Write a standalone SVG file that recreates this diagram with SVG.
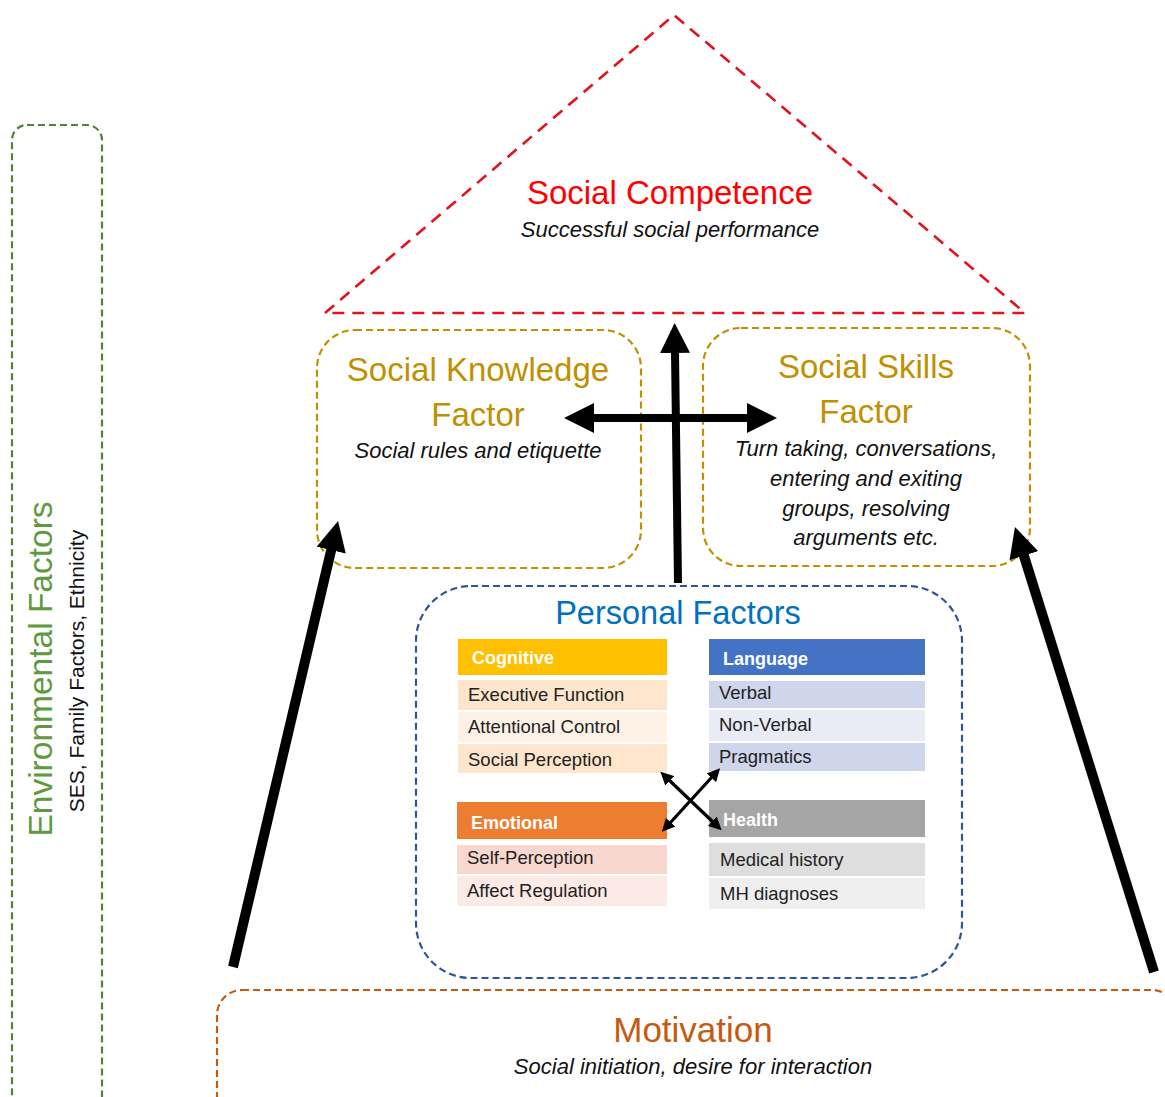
<svg xmlns="http://www.w3.org/2000/svg" width="1165" height="1097" viewBox="0 0 1165 1097">
<style>
text{font-family:"Liberation Sans","Open Sans",sans-serif}
.h{font-size:33px;text-anchor:middle}
.it{font-size:22px;font-style:italic;text-anchor:middle;fill:#111}
.hd{font-size:18px;font-weight:bold;fill:#fff}
.c{font-size:18.5px;fill:#222}
.dash{fill:none;stroke-width:2.2;stroke-dasharray:7 4}
.big{stroke:#000;fill:none}
</style>
<defs>
<marker id="ah" markerUnits="userSpaceOnUse" viewBox="0 0 30 30" markerWidth="30" markerHeight="30" refX="1" refY="15" orient="auto-start-reverse"><path d="M0,0 L30,15 L0,30 z" fill="#000"/></marker>
<marker id="as" markerUnits="userSpaceOnUse" viewBox="0 0 13 13" markerWidth="13" markerHeight="13" refX="1" refY="6.5" orient="auto-start-reverse"><path d="M0,0 L13,6.5 L0,13 z" fill="#000"/></marker>
</defs>
<rect width="1165" height="1097" fill="#fff"/>

<g id="environmental">
<rect x="12" y="125" width="90" height="990" rx="15" class="dash" stroke="#548235"/>
<text transform="translate(52,669) rotate(-90)" class="h" fill="#5e9a3f" style="font-size:33.5px">Environmental Factors</text>
<text transform="translate(84,671) rotate(-90)" style="font-size:21px;text-anchor:middle" fill="#111">SES, Family Factors, Ethnicity</text>
</g>

<g id="social-competence">
<path d="M325,313 L674,15 L1025,313 Z" fill="none" stroke="#e0141c" stroke-width="2.6" stroke-dasharray="12 8"/>
<text x="670" y="204" class="h" fill="#ff0000">Social Competence</text>
<text x="670" y="237" class="it">Successful social performance</text>
</g>

<g id="social-knowledge">
<rect x="317" y="330" width="324" height="238" rx="38" class="dash" stroke="#bf9000"/>
<text x="478" y="381" class="h" fill="#bf9000">Social Knowledge</text>
<text x="478" y="426" class="h" fill="#bf9000">Factor</text>
<text x="478" y="458" class="it">Social rules and etiquette</text>
</g>

<g id="social-skills">
<rect x="703" y="328" width="327" height="238" rx="38" class="dash" stroke="#bf9000"/>
<text x="866" y="378" class="h" fill="#bf9000">Social Skills</text>
<text x="866" y="423" class="h" fill="#bf9000">Factor</text>
<text x="866" y="456" class="it">Turn taking, conversations,</text>
<text x="866" y="486" class="it">entering and exiting</text>
<text x="866" y="516" class="it">groups, resolving</text>
<text x="866" y="545" class="it">arguments etc.</text>
</g>

<g id="personal-factors">
<rect x="416" y="586" width="546" height="392" rx="55" class="dash" stroke="#2f5597"/>
<text x="678" y="624" class="h" fill="#0070c0" style="font-size:32.5px">Personal Factors</text>
</g>

<g id="cognitive">
<rect x="458" y="639" width="209" height="36" fill="#ffc000"/>
<text x="472" y="664" class="hd">Cognitive</text>
<rect x="458" y="680" width="209" height="30" fill="#fde6cb"/>
<text x="468" y="701" class="c">Executive Function</text>
<rect x="458" y="712" width="209" height="30" fill="#fef2e6"/>
<text x="468" y="733" class="c">Attentional Control</text>
<rect x="458" y="744" width="209" height="29" fill="#fde6cb"/>
<text x="468" y="766" class="c">Social Perception</text>
</g>

<g id="language">
<rect x="709" y="639" width="216" height="36" fill="#4472c4"/>
<text x="723" y="665" class="hd">Language</text>
<rect x="709" y="681" width="216" height="27" fill="#cfd5ea"/>
<text x="719" y="699" class="c">Verbal</text>
<rect x="709" y="710" width="216" height="31" fill="#e9ebf5"/>
<text x="719" y="731" class="c">Non-Verbal</text>
<rect x="709" y="743" width="216" height="28" fill="#cfd5ea"/>
<text x="719" y="763" class="c">Pragmatics</text>
</g>

<g id="emotional">
<rect x="457" y="802" width="210" height="37" fill="#ed7d31"/>
<text x="471" y="829" class="hd">Emotional</text>
<rect x="457" y="845" width="210" height="29" fill="#f8d8ce"/>
<text x="467" y="864" class="c">Self-Perception</text>
<rect x="457" y="876" width="210" height="30" fill="#fbeae6"/>
<text x="467" y="897" class="c">Affect Regulation</text>
</g>

<g id="health">
<rect x="709" y="800" width="216" height="37" fill="#a5a5a5"/>
<text x="723" y="826" class="hd">Health</text>
<rect x="709" y="843" width="216" height="33" fill="#dedede"/>
<text x="720" y="866" class="c">Medical history</text>
<rect x="709" y="878" width="216" height="31" fill="#efefef"/>
<text x="720" y="900" class="c">MH diagnoses</text>
</g>

<g id="motivation">
<rect x="217" y="990" width="960" height="130" rx="25" class="dash" stroke="#c55a11"/>
<text x="693" y="1042" class="h" fill="#c55a11" style="font-size:35px">Motivation</text>
<text x="693" y="1074" class="it">Social initiation, desire for interaction</text>
</g>

<g id="connectors">
<line x1="678" y1="583" x2="675" y2="352" class="big" stroke-width="8" marker-end="url(#ah)"/>
<line x1="593" y1="418" x2="748" y2="418" class="big" stroke-width="8" marker-start="url(#ah)" marker-end="url(#ah)"/>
<line x1="233" y1="967" x2="331.4" y2="549.2" class="big" stroke-width="10" marker-end="url(#ah)"/>
<line x1="1154" y1="972" x2="1023.6" y2="554.7" class="big" stroke-width="10" marker-end="url(#ah)"/>
<line x1="669" y1="780" x2="713" y2="822" class="big" stroke-width="3.2" marker-start="url(#as)" marker-end="url(#as)"/>
<line x1="712" y1="777" x2="670" y2="823" class="big" stroke-width="3.2" marker-start="url(#as)" marker-end="url(#as)"/>
</g>
</svg>
